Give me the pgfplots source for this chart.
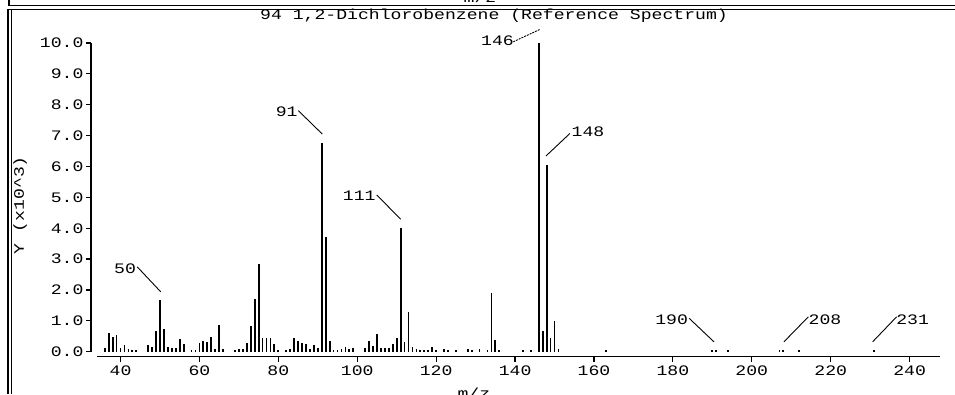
\documentclass[border=0pt]{standalone}
\usepackage{pgfplots}
\pgfplotsset{compat=1.18}
\usepackage{pgfplotstable}
\usepackage{fontspec}
\setmainfont{Liberation Mono}[FakeStretch=1.25]
\newcommand{\pf}{\fontsize{14.5}{16}\selectfont}

\pgfplotstableread{
mz  y
36 0.11
37 0.61
38 0.48
39 0.54
40 0.11
41 0.22
42 0.08
43 0.05
44 0.05
47 0.22
48 0.16
49 0.67
50 1.66
51 0.72
52 0.16
53 0.11
54 0.12
55 0.41
56 0.24
58 0.05
59 0.05
60 0.28
61 0.35
62 0.32
63 0.48
64 0.08
65 0.85
66 0.09
69 0.05
70 0.10
71 0.10
72 0.29
73 0.84
74 1.72
75 2.83
76 0.46
77 0.46
78 0.46
79 0.24
80 0.05
82 0.05
83 0.10
84 0.46
85 0.36
86 0.27
87 0.24
88 0.09
89 0.22
90 0.11
91 6.76
92 3.72
93 0.36
94 0.05
95 0.05
96 0.09
97 0.16
98 0.08
99 0.11
102 0.11
103 0.36
104 0.18
105 0.56
106 0.11
107 0.11
108 0.11
109 0.24
110 0.43
111 4.01
112 0.30
113 1.29
114 0.16
115 0.09
116 0.05
117 0.05
118 0.05
119 0.16
120 0.05
122 0.09
123 0.05
125 0.05
128 0.09
129 0.05
131 0.09
133 0.05
134 1.90
135 0.38
136 0.05
142 0.05
144 0.05
146 10.0
147 0.68
148 6.06
149 0.43
150 0.99
151 0.10
163 0.05
190 0.05
191 0.05
194 0.05
207 0.05
208 0.05
212 0.05
231 0.05
}\spectrum

\begin{document}
\begin{tikzpicture}[font=\pf]
% frame
\draw[line width=1.3pt] (9pt,394pt) -- (9pt,388.5pt) -- (955pt,388.5pt);
\draw[line width=1.3pt] (955pt,384.5pt) -- (8pt,384.5pt) -- (8pt,0pt);
\draw[line width=1.3pt] (11.5pt,384.5pt) -- (11.5pt,0pt);
\node[anchor=base, inner sep=0pt] at (480pt,391.5pt) {m/z};
\begin{axis}[
  at={(97pt,42.3pt)}, anchor=south west,
  scale only axis, width=843pt, height=308.7pt,
  xmin=34.04, xmax=247.7, ymin=0, ymax=10,
  axis x line*=bottom, axis y line*=left,
  axis x line shift=4.8pt, axis y line shift=6pt,
  clip=false,
  xtick={40,60,...,240}, ytick={0,1,...,10},
  tick align=outside, major tick length=5pt,
  every tick/.style={black, line width=1.2pt},
  axis line style={line width=1.6pt},
  /pgf/number format/assume math mode=true,
  tick label style={font=\pf},
  yticklabel={\pgfmathprintnumber[fixed,fixed zerofill,precision=1]{\tick}},
  xticklabel style={yshift=-1pt},
  yticklabel style={xshift=1pt},
  xlabel={m/z}, ylabel={Y (x10\textasciicircum 3)},
  label style={font=\pf},
  xlabel style={at={(axis description cs:0.447,-0.105)}, anchor=north},
  ylabel style={at={(axis description cs:-0.0913,0.475)}, anchor=center},
  title={94 1,2-Dichlorobenzene (Reference Spectrum)},
  title style={font=\pf, at={(axis description cs:0.471,1.068)}, anchor=center},
]
\addplot[ycomb, black, line width=1.8pt, mark=none] table[x=mz, y=y] {\spectrum};
% peak annotations
\node at (axis cs:41.14,2.70) {50};
\draw[line width=0.9pt] (axis cs:44.23,2.75) -- (axis cs:50.19,1.94);
\node at (axis cs:82.12,7.78) {91};
\draw[line width=0.9pt] (axis cs:85.06,7.81) -- (axis cs:91.14,7.05);
\node at (axis cs:100.52,5.04) {111};
\draw[line width=0.9pt] (axis cs:104.93,5.08) -- (axis cs:111.01,4.29);
\node at (axis cs:135.54,10.07) {146};
\draw[line width=0.9pt, dash pattern=on 2pt off 1pt] (axis cs:139.54,10.04) -- (axis cs:146.31,10.44);
\node at (axis cs:158.48,7.12) {148};
\draw[line width=0.9pt] (axis cs:147.83,6.34) -- (axis cs:153.9,7.07);
\node at (axis cs:179.69,1.05) {190};
\draw[line width=0.9pt] (axis cs:184.14,1.08) -- (axis cs:190.41,0.32);
\node at (axis cs:218.54,1.05) {208};
\draw[line width=0.9pt] (axis cs:208.14,0.32) -- (axis cs:214.33,1.13);
\node at (axis cs:240.76,1.05) {231};
\draw[line width=0.9pt] (axis cs:230.62,0.32) -- (axis cs:236.70,1.13);
\end{axis}
\pgfresetboundingbox
\path[use as bounding box] (0pt,0pt) rectangle (955pt,394pt);
\end{tikzpicture}
\end{document}
